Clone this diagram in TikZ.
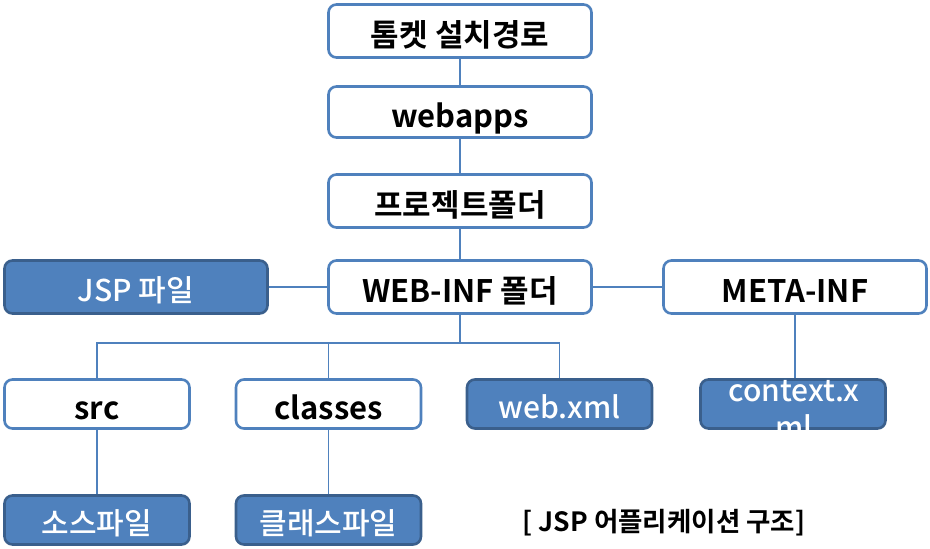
\documentclass[tikz,border=0pt]{standalone}
\usepackage{fontspec}
\setmainfont{Noto Sans CJK KR}[BoldFont={Noto Sans CJK KR Bold}]
\newfontfamily\krmed{Noto Sans CJK KR Medium}
\definecolor{obl}{HTML}{4F81BD}
\definecolor{odk}{HTML}{3A5F8C}
\tikzset{
  wbox/.style={draw=obl, line width=2.6pt, rounded corners=8pt, fill=white, inner sep=0pt,
    font=\bfseries\fontsize{31}{36}\selectfont, text=black, text height=30pt, text depth=0pt},
  bbox/.style={draw=odk, line width=2.6pt, rounded corners=8pt, fill=obl, inner sep=0pt,
    font=\krmed\fontsize{30}{36}\selectfont, text=white, text height=28pt, text depth=0pt},
  wide/.style={minimum width=263pt, minimum height=53pt},
  narrow/.style={minimum width=185pt, minimum height=49pt},
  conn/.style={draw=obl, line width=1.6pt},
  wtext/.style={text=white, font=\krmed\fontsize{30}{36}\selectfont, inner sep=0pt}
}
\begin{document}
\begin{tikzpicture}[x=1pt,y=-1pt]
\useasboundingbox (0,0) rectangle (930,549);
% nodes
\node[wbox,wide] (tomcat) at (460,31) {톰켓 설치경로};
\node[wbox,wide,minimum height=51pt] (webapps) at (460,112) {webapps};
\node[wbox,wide] (project) at (460,201) {프로젝트폴더};
\node[wbox,wide] (webinf) at (460,287) {WEB-INF 폴더};
\node[bbox,wide] (jsp) at (136,287) {JSP 파일};
\node[wbox,wide] (meta) at (795,287) {META-INF};
\node[wbox,narrow] (src) at (97,404) {src};
\node[wbox,narrow] (classes) at (328.5,404) {classes};
\node[bbox,narrow] (webxml) at (559.5,404) {web.xml};
\node[bbox,narrow] (context) at (793,404) {};
\node[wtext] (ctx1) at (794,391) {context.x};
\node[wtext] (ctx2) at (794,427) {ml};
\node[bbox,narrow] (source) at (97,520) {소스파일};
\node[bbox,narrow] (classfile) at (328.5,520) {클래스파일};
\node[font=\bfseries\fontsize{26.5}{30}\selectfont, inner sep=0pt] (caption) at (664,523) {[ JSP 어플리케이션 구조]};
\coordinate (bus) at (460,343);
% connectors
\path[conn] (tomcat.south) -- (webapps.north);
\path[conn] (webapps.south) -- (project.north);
\path[conn] (project.south) -- (webinf.north);
\path[conn] (jsp.east) -- (webinf.west);
\path[conn] (webinf.east) -- (meta.west);
\path[conn] (webinf.south) -- (bus);
\path[conn] (src.north) |- (bus) -| (webxml.north);
\path[conn] (classes.north) -- (classes.north |- bus);
\path[conn] (meta.south) -- (meta.south |- context.north);
\path[conn] (src.south) -- (source.north);
\path[conn] (classes.south) -- (classfile.north);
\end{tikzpicture}
\end{document}
